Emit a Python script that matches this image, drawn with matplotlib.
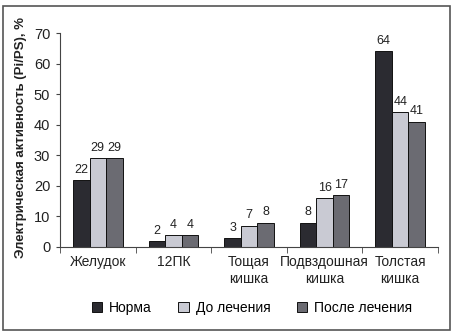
import matplotlib
matplotlib.use("Agg")
import matplotlib.pyplot as plt
from matplotlib.patches import Rectangle
import numpy as np

categories = ["Желудок", "12ПК", "Тощая\nкишка", "Подвздошная\nкишка", "Толстая\nкишка"]
series_names = ["Норма", "До лечения", "После лечения"]
norma = [22, 2, 3, 8, 64]
do_lech = [29, 4, 7, 16, 44]
posle_lech = [29, 4, 8, 17, 41]
yticks = [0, 10, 20, 30, 40, 50, 60, 70]

colors = ["#2b2b31", "#c9cad3", "#6b6b72"]
plt.rcParams['font.family'] = ['Liberation Sans', 'DejaVu Sans']

fig = plt.figure(figsize=(4.53, 3.33), dpi=100)
ax = fig.add_axes([60/453, 1-247/333, (438-60)/453, (247-33)/333])

x = np.arange(len(categories))
w = 0.218
for i, (vals, c, name) in enumerate(zip([norma, do_lech, posle_lech], colors, series_names)):
    bars = ax.bar(x + (i-1)*w, vals, w, color=c, edgecolor="#111111", linewidth=0.7, label=name)
    for b, v in zip(bars, vals):
        ax.annotate(str(v), (b.get_x()+b.get_width()/2, v), xytext=(0, 3),
                    textcoords="offset points", ha="center", va="bottom", fontsize=9, color="#222222")

ax.set_xlim(-0.5, len(categories)-0.5)
ax.set_ylim(0, 70)
ax.set_yticks(yticks)
ax.set_xticks(x)
ax.set_xticklabels(categories, fontsize=10, color="#222222", linespacing=1.25)
ax.tick_params(axis='x', length=0, pad=6)
ax.set_xticks(np.arange(-0.5, len(categories), 1.0), minor=True)
ax.tick_params(axis='x', which='minor', length=4, direction='out', color="#444444")
ax.tick_params(axis='y', length=3, direction='out', labelsize=10.5, labelcolor="#222222", color="#444444", pad=4)
for s in ["top", "right"]:
    ax.spines[s].set_visible(False)
for s in ["left", "bottom"]:
    ax.spines[s].set_color("#444444")

fig.text(21/453, 1-138/333, "Электрическая активность (Pi/PS), %", rotation=90,
         ha="center", va="center", fontsize=9.5, fontweight="bold", color="#222222")

handles, labels = ax.get_legend_handles_labels()
fig.legend(handles, labels, loc="center", bbox_to_anchor=(252/453, 1-308/333), ncol=3,
           frameon=False, fontsize=10, handlelength=0.75, handleheight=0.75,
           columnspacing=1.9, handletextpad=0.5)

fig.patches.append(Rectangle((3/453, 3/333), 447/453, 324/333, transform=fig.transFigure,
                             fill=False, edgecolor="#555555", linewidth=1.2))

fig.savefig("out.png", dpi=100)
